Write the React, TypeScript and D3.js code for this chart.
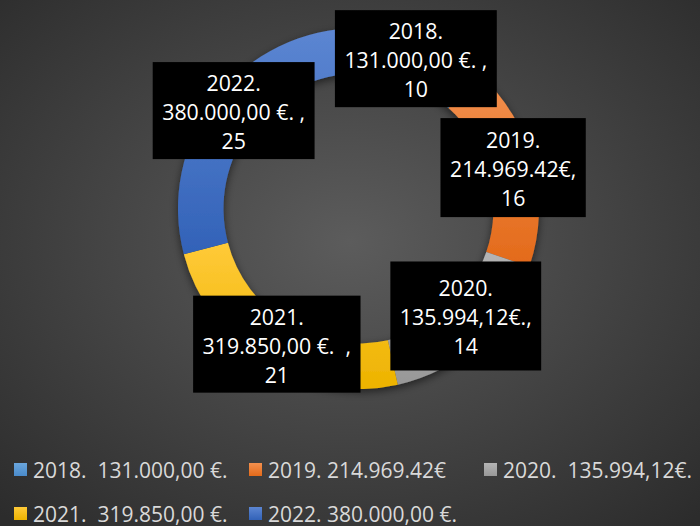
import React, { useEffect, useRef } from "react";
import * as d3 from "d3";

const categories = [
  "2018.  131.000,00 €.",
  "2019. 214.969.42€",
  "2020.  135.994,12€.",
  "2021.  319.850,00 €.",
  "2022. 380.000,00 €.",
];
const values = [10, 16, 14, 21, 25];
const labelYears = ["2018.", "2019.", "2020.", "2021.", "2022."];
const labelAmounts = ["131.000,00 €. ,", "214.969.42€,", "135.994,12€.,", "319.850,00 €.  ,", "380.000,00 €. ,"];
const topColors = ["#6aa6dd", "#f3904e", "#b4b4b4", "#ffca38", "#5c86d2"];
const bottomColors = ["#4a8bcb", "#e36a1a", "#989898", "#edb300", "#3262b8"];

// layout tweaks for the manually placed data labels
const labelNudgeX = [1, 2, 2, 0.5, 0];
const labelNudgeY = [-2.5, -1, -10, 1, -1.5];
const labelBoxH = [97, 99, 109, 97, 97];

const W = 700;
const H = 526;

export default function App() {
  const ref = useRef<SVGSVGElement | null>(null);

  useEffect(() => {
    document.body.style.margin = "0";
    const svg = d3.select(ref.current);
    svg.selectAll("*").remove();

    const defs = svg.append("defs");
    const bg = defs
      .append("radialGradient")
      .attr("id", "bg")
      .attr("cx", "50%")
      .attr("cy", "46%")
      .attr("r", "72%");
    bg.append("stop").attr("offset", "0%").attr("stop-color", "#5c5c5c");
    bg.append("stop").attr("offset", "100%").attr("stop-color", "#2c2c2c");

    const cx = 358.5;
    const cy = 208.5;
    const outerR = 180.5;
    const innerR = 135;

    topColors.forEach((_, i) => {
      const lg = defs
        .append("linearGradient")
        .attr("id", "lg" + i)
        .attr("x1", 0)
        .attr("x2", 0)
        .attr("y1", 0)
        .attr("y2", 1);
      lg.append("stop").attr("offset", "0%").attr("stop-color", topColors[i]);
      lg.append("stop").attr("offset", "100%").attr("stop-color", bottomColors[i]);
    });

    const f = defs
      .append("filter")
      .attr("id", "shadow")
      .attr("x", "-20%")
      .attr("y", "-20%")
      .attr("width", "140%")
      .attr("height", "140%");
    f.append("feDropShadow")
      .attr("dx", 0)
      .attr("dy", 3)
      .attr("stdDeviation", 4)
      .attr("flood-color", "#000")
      .attr("flood-opacity", 0.55);

    svg.append("rect").attr("width", W).attr("height", H).attr("fill", "url(#bg)");

    const pie = d3.pie<number>().sort(null).value((d) => d);
    const arcs = pie(values);
    const arc = d3.arc<d3.PieArcDatum<number>>().innerRadius(innerR).outerRadius(outerR);

    const ring = svg
      .append("g")
      .attr("transform", `translate(${cx},${cy})`)
      .attr("filter", "url(#shadow)");
    ring
      .selectAll("path")
      .data(arcs)
      .join("path")
      .attr("d", arc)
      .attr("fill", (_, i) => `url(#lg${i})`);

    // data labels
    const midArc = d3
      .arc<d3.PieArcDatum<number>>()
      .innerRadius((innerR + outerR) / 2)
      .outerRadius((innerR + outerR) / 2);
    const labels = svg.append("g").attr("transform", `translate(${cx},${cy})`);
    arcs.forEach((a, i) => {
      const [mx, my] = midArc.centroid(a);
      const x = mx + labelNudgeX[i];
      const y = my + labelNudgeY[i];
      const g = labels.append("g").attr("transform", `translate(${x},${y})`);
      const rect = g.append("rect").attr("fill", "#000");
      const lines = [labelYears[i], labelAmounts[i], String(values[i])];
      let maxW = 0;
      lines.forEach((t, k) => {
        const tx = g
          .append("text")
          .attr("x", 0)
          .attr("y", (k - 1) * 29 + 9.5)
          .attr("text-anchor", "middle")
          .attr("fill", "#fff")
          .attr("font-family", "'Open Sans', 'Noto Sans', sans-serif")
          .attr("font-size", 21.3)
          .style("white-space", "pre")
          .text(t);
        const n = tx.node() as SVGTextElement;
        maxW = Math.max(maxW, n.getComputedTextLength());
      });
      const bw = maxW + 19;
      rect
        .attr("x", -bw / 2)
        .attr("y", -labelBoxH[i] / 2)
        .attr("width", bw)
        .attr("height", labelBoxH[i]);
    });

    // legend
    const legend = svg.append("g");
    const colX = d3.scaleLinear().domain([0, 1]).range([14, 249]);
    const rowY = d3.scaleLinear().domain([0, 1]).range([470, 514]);
    categories.forEach((c, i) => {
      const col = i % 3;
      const row = Math.floor(i / 3);
      const x = colX(col);
      const y = rowY(row);
      legend
        .append("rect")
        .attr("x", x)
        .attr("y", y - 7)
        .attr("width", 13)
        .attr("height", 13)
        .attr("fill", `url(#lg${i})`);
      legend
        .append("text")
        .attr("x", x + 19)
        .attr("y", y + 7.5)
        .attr("fill", "#d9d9d9")
        .attr("font-family", "'Open Sans', 'Noto Sans', sans-serif")
        .attr("font-size", 21)
        .style("white-space", "pre")
        .text(c);
    });
  }, []);

  return <svg ref={ref} width={W} height={H} style={{ display: "block" }} />;
}
